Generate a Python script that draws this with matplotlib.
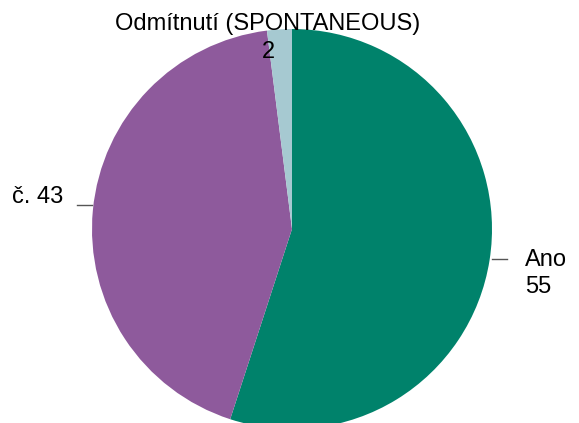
import numpy as np
import matplotlib
matplotlib.use("Agg")
import matplotlib.pyplot as plt

categories = ["Ano", "č.", "Odmítnutí (SPONTANEOUS)"]
values = [55, 43, 2]
colors = ["#00826B", "#8E5A9C", "#A6C9D1"]

W, H = 579, 423
fig = plt.figure(figsize=(W / 100, H / 100), dpi=100)
ax = fig.add_axes([0, 0, 1, 1])

cx, cy, r = 292, H - 229, 200
wedges, _ = ax.pie(values, colors=colors, startangle=90, counterclock=False,
                   center=(cx, cy), radius=r, frame=True,
                   wedgeprops=dict(linewidth=0))
ax.set_xlim(0, W)
ax.set_ylim(0, H)
ax.set_aspect("equal")
ax.axis("off")

font = dict(family=["Liberation Sans", "DejaVu Sans"], fontsize=17, color="black")
lc = "#555555"

# Ano
w = wedges[0]
a = np.deg2rad((w.theta1 + w.theta2) / 2)
ey = H - 259
ax.plot([cx + r * np.cos(a) + 2, cx + r * np.cos(a) + 17], [ey, ey], color=lc, lw=1)
ax.text(525, H - 266, categories[0], ha="left", va="baseline", **font)
ax.text(525, H - 293, f"{values[0]}", ha="left", va="baseline", **font)

# Ne
w = wedges[1]
a = np.deg2rad((w.theta1 + w.theta2) / 2)
ey = H - 205
ax.plot([cx + r * np.cos(a) - 1, cx + r * np.cos(a) - 16], [ey, ey], color=lc, lw=1)
ax.text(63, H - 203, f"{categories[1]} {values[1]}", ha="right", va="baseline", **font)

# Odmitnuti
ax.text(268, H - 30, categories[2], ha="center", va="baseline", **font)
ax.text(268, H - 58, f"{values[2]}", ha="center", va="baseline", **font)

fig.savefig("out.png", dpi=100)
